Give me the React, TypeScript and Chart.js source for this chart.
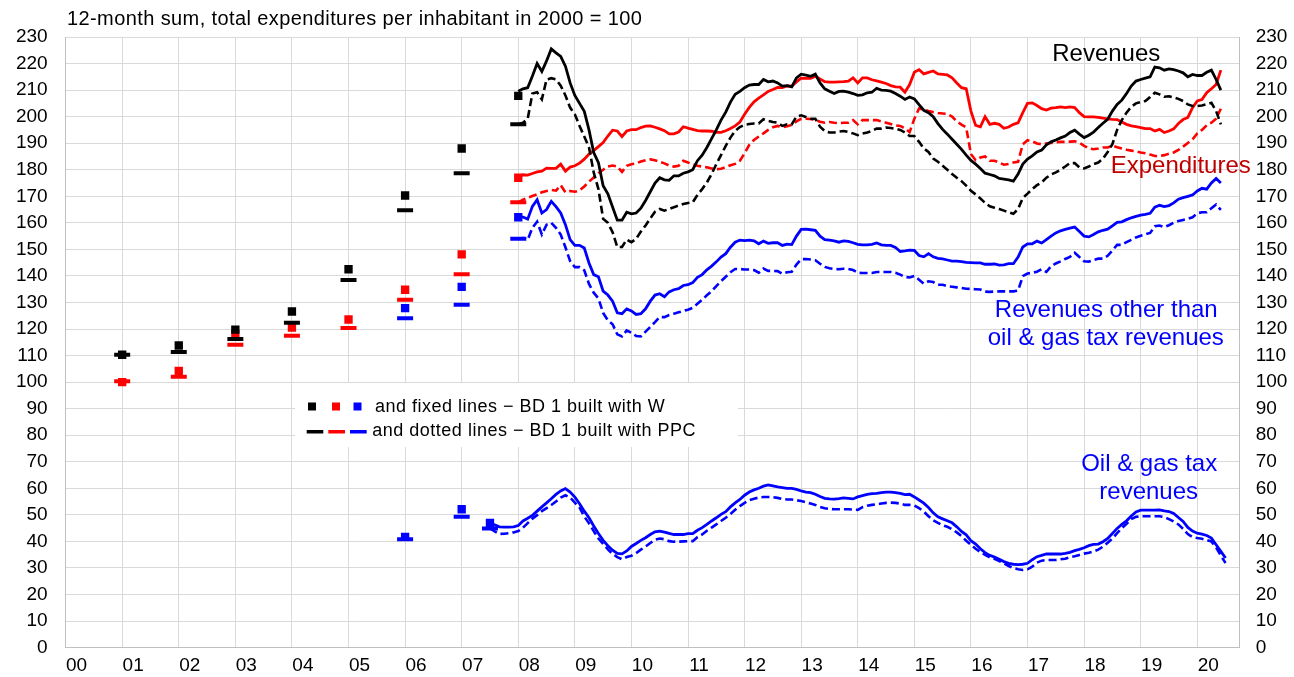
import React, { useEffect, useRef } from 'react';
import { Chart, registerables } from 'chart.js';

Chart.register(...registerables);

const FONT = '"Liberation Sans", Arial, sans-serif';

// ---------- axis ----------
const YEAR_LABELS = ['00', '01', '02', '03', '04', '05', '06', '07', '08', '09', '10', '11', '12', '13', '14', '15', '16', '17', '18', '19', '20'];
const MONTHS_PER_YEAR = 12;
const X_MAX_MONTH = 249;
const Y_MIN = 0;
const Y_MAX = 230;
const Y_STEP = 10;

// ---------- annual markers (12-month sums at year end) ----------
const ANNUAL_MONTHS = [12, 24, 36, 48, 60, 72, 84, 96];
const REV_W_ANNUAL = [110.3, 113.8, 119.8, 126.6, 142.5, 170.3, 188.0, 207.8];
const REV_PPC_ANNUAL = [110.3, 111.3, 116.2, 122.4, 138.5, 164.7, 178.7, 197.1];
const EXP_W_ANNUAL = [100.0, 104.2, 118.1, 120.5, 123.6, 134.8, 148.1, 177.0];
const EXP_PPC_ANNUAL = [100.3, 102.0, 114.1, 117.5, 120.4, 131.0, 140.6, 167.8];
const OTHER_MONTHS = [72, 84, 96];
const OTHER_W_ANNUAL = [127.9, 135.9, 162.1];
const OTHER_PPC_ANNUAL = [124.1, 129.1, 154.0];
const OIL_MONTHS = [72, 84, 90];
const OIL_W_ANNUAL = [41.7, 52.1, 47.0];
const OIL_PPC_ANNUAL = [40.8, 49.3, 44.9];

// ---------- monthly series (month index 96 = Dec 2007) ----------
const LINE_START = 96;
const REV_W = [
  209.6, 210.5, 210.9, 215.3, 220, 217, 221, 225.5, 224, 222.7, 219, 212.7,
  208, 205, 202, 195, 186.5, 182.7, 174, 170.9, 166, 161, 161, 164,
  163.4, 163.7, 165.5, 168.4, 171.7, 175, 177, 176.2, 176, 177.7, 177.7, 178.7,
  179.2, 180, 183.4, 185.5, 188.4, 191.7, 195, 198.7, 201.7, 205.5, 208.4, 209.5,
  210.9, 211.9, 212.1, 212.1, 214, 213.1, 213.4, 212.7, 211.5, 211.7, 211.2, 214.6,
  216, 215.6, 215.2, 216, 212.7, 210.5, 209.6, 208.7, 209.5, 209.6, 209.2, 208.7,
  208, 208.2, 209, 209.2, 210.7, 210, 209.9, 209.6, 208.7, 207.7, 206.5, 207.4,
  206.7, 204.5, 202.4, 201.5, 200, 197.4, 195.2, 193.4, 191.5, 189.6, 187.7, 185.5,
  183.5, 182.1, 180.5, 178.7, 178.2, 177.7, 176.7, 176.5, 176.2, 175.7, 178.4, 182.1,
  184, 185.2, 186.7, 187.4, 189.4, 190.5, 191.2, 192, 192.7, 194, 194.9, 193.4,
  192.1, 193, 194.2, 195.9, 197.5, 199, 202.1, 204.6, 206.2, 208.7, 211.5, 213.4,
  214, 214.5, 215, 218.7, 218.4, 217.5, 218, 217.7, 217.2, 216.5, 215, 215.9,
  215.5, 215.5, 216.7, 217.5, 214, 210,
];
const REV_PPC = [
  197.1, 197.7, 199.2, 208.7, 209.2, 206.5, 214, 214.5, 214, 211.7, 208, 203.4,
  200.9, 196.5, 192.5, 188.4, 179, 172.7, 161.5, 160, 156.5, 150.9, 150.9, 153.7,
  152.7, 154, 156.7, 159, 161.7, 164.2, 165.2, 164.6, 165.2, 165.9, 166.5, 167.1,
  167.5, 167.7, 170.5, 172.7, 175.2, 178.4, 182.1, 185.5, 189, 192.1, 194.6, 196.1,
  196.9, 197.2, 197.4, 197.4, 199, 198.4, 198, 197.7, 196.5, 197.1, 197.1, 200,
  200.5, 199.9, 199.2, 199.2, 196.2, 194.6, 194, 194, 194.4, 194.6, 194.2, 193.7,
  193, 193.6, 194, 194.6, 195.5, 195.5, 195.9, 195.7, 195.4, 195, 194, 192.7,
  192.7, 190.5, 188, 186.7, 184.2, 183, 181.5, 180, 178.4, 177, 175.7, 174,
  172.1, 170.7, 169.2, 167.5, 166.2, 165.7, 165.2, 164.6, 164, 163.4, 165.2, 169.4,
  171, 172.7, 174.2, 175.2, 177, 178.2, 179, 180, 181.2, 182.5, 182.5, 180.9,
  180.5, 181.2, 182.1, 182.7, 184.2, 186.7, 189.6, 195, 198.7, 201.5, 203.7, 205,
  205.5, 205.9, 207.4, 209, 208.4, 207.5, 207.7, 207.2, 206.7, 205.9, 204.6, 204,
  204, 204.2, 204.7, 205.2, 202.1, 197.1,
];
const EXP_W = [
  177.1, 178.1, 178, 178.6, 179.2, 179.5, 180.6, 180.5, 180.5, 182.1, 179.5, 181,
  181.5, 182.5, 184, 185.9, 187.2, 188.7, 190.2, 192.7, 194.9, 194.6, 192.5, 194.6,
  195.1, 195.1, 195.9, 196.4, 196.5, 196, 195.4, 194.7, 193.5, 193.5, 194.2, 196.2,
  195.7, 195.2, 194.7, 194.6, 194.6, 194.5, 194.1, 194.1, 194.7, 195.5, 196.5, 198,
  200.9, 203.5, 205.6, 207, 208.2, 209.5, 210.2, 211, 210.9, 211.6, 211.5, 213.1,
  214.5, 214.4, 214.4, 215.2, 214.2, 213.2, 213, 213, 213.1, 213.2, 213.4, 214.6,
  212.7, 214.6, 214.6, 213.9, 213.5, 213, 212.5, 211.7, 211.2, 211.1, 209.2, 212.1,
  216.7, 217.7, 216.1, 216.7, 217.2, 216.1, 215.9, 215.7, 214.6, 212.7, 210.9, 210.5,
  202.1, 196.7, 196.2, 200, 197.1, 197.5, 197.1, 195.6, 196.1, 197.1, 197.7, 201.5,
  205, 205.2, 204.2, 203, 202.5, 203.2, 203.4, 203.7, 203.4, 203.7, 203.4, 201.5,
  200, 199.9, 199.9, 199.7, 199.4, 199.2, 199, 198.9, 198, 197.1, 196.5, 196.2,
  195.9, 195.5, 195.5, 194.6, 195.2, 194, 194.6, 195.4, 197.4, 198.9, 199.7, 203.4,
  205.9, 206.4, 209, 210.5, 212.1, 217.5,
];
const EXP_PPC = [
  167.7, 168.7, 169.5, 170.1, 170.7, 171.5, 172, 172.4, 172.1, 174.2, 171.5, 172,
  171.7, 172.2, 173.7, 175.5, 177.1, 178.7, 180, 181.2, 181.6, 181.2, 179.2, 181.5,
  182.1, 182.4, 183.1, 183.6, 183.9, 183.6, 183, 182.4, 181.6, 181.2, 181.5, 183.4,
  182.7, 182.1, 181.5, 181.2, 180.9, 180.5, 180.2, 180.4, 181, 181.7, 182.2, 183.4,
  186.2, 189.4, 191.2, 192.5, 193.7, 195, 196, 196.5, 196, 196.4, 196.9, 198.2,
  199.2, 199.2, 199.1, 198.7, 198.1, 197.7, 198, 197.7, 197.5, 197.7, 197.7, 198.7,
  197.1, 198.7, 198.7, 198.7, 198.7, 198.2, 197.7, 197.2, 196.7, 196.5, 195.6, 194.2,
  199.2, 203.1, 202.7, 202.1, 201.7, 201.4, 201.2, 201, 200, 198.2, 197, 195.9,
  185.9, 183.6, 184.6, 185, 183.4, 183.4, 182.7, 181.9, 182.2, 182.7, 183, 189.6,
  191.1, 190.7, 189.9, 189.6, 189.9, 190.1, 190.4, 190.5, 190.5, 190.6, 190.7, 190.2,
  189, 188.1, 187.7, 188, 188.4, 188.4, 189, 188.5, 188, 187.5, 187.2, 186.9,
  186.5, 186.2, 185.7, 185.2, 185.2, 185.5, 186, 186.5, 187.5, 188.7, 190.1, 191.5,
  193.7, 195, 196.7, 197.7, 199.2, 203,
];
const OTHER_W = [
  162.4, 162.2, 161.4, 166.2, 168.7, 163.7, 165, 168.1, 166.1, 163.7, 159.3, 153.7,
  151.5, 151.5, 150.5, 144.9, 140.5, 139.7, 134.3, 132.8, 130.5, 126.1, 125.8, 127.6,
  126.8, 125.5, 125.8, 127.6, 130.5, 132.8, 133.3, 132.2, 134, 134.8, 135.2, 136.4,
  136.7, 137.5, 139.5, 140.5, 142.3, 143.7, 145.3, 147.1, 148.4, 150.8, 152.7, 153.5,
  153.3, 153.5, 153.2, 152.1, 153.1, 152.3, 152.5, 152.5, 151.5, 152, 151.8, 155,
  157.5, 157.6, 157.4, 157.2, 155, 153.7, 153.5, 153.2, 152.7, 153.2, 153, 152.5,
  151.9, 151.7, 151.7, 151.9, 152.4, 151.7, 151.5, 151.5, 150.7, 149.2, 149.4, 149.7,
  149.6, 147.7, 147.2, 148.4, 147.2, 146.6, 146.4, 146, 145.6, 145.6, 145.4, 145.1,
  145, 144.9, 144.9, 144.4, 144.4, 144.5, 144.1, 144.2, 144.6, 144.6, 147.1, 150.9,
  152.1, 152.1, 153.1, 152.4, 153.7, 155, 156.2, 157, 157.5, 158, 158.4, 156.7,
  155, 154.7, 155.6, 156.6, 157.2, 157.6, 158.9, 160.2, 160.4, 161.2, 161.9, 162.4,
  162.9, 163.2, 163.6, 165.9, 166.6, 166.1, 166.5, 167.5, 168.9, 169.5, 170, 170.5,
  172, 173, 172.7, 175, 176.7, 175,
];
const OTHER_PPC = [
  154.1, 154.3, 153.6, 158.1, 160.4, 155.6, 159.3, 160, 158.1, 155.6, 150.8, 145.6,
  143.3, 143.3, 142.1, 137, 133.7, 131.5, 126.1, 123.3, 121.8, 118, 117.2, 119.5,
  118.6, 117.4, 117.2, 119, 120.8, 122.6, 124.5, 124.5, 125.3, 125.8, 126.3, 126.8,
  127.3, 128, 129.5, 131, 132.7, 134.2, 136.2, 138, 139.7, 141.4, 142.6, 142.6,
  142.4, 142.4, 142.2, 141.2, 142.8, 141.9, 141.9, 141.8, 140.8, 141.4, 141.6, 144.3,
  146.3, 146.4, 146.2, 145.9, 144.6, 143.4, 142.9, 142.6, 142.5, 142.7, 142.6, 142.2,
  141.2, 141.1, 141.1, 141.1, 141.5, 141.5, 141.5, 141.5, 141.2, 140.5, 139.6, 139.4,
  140, 138.6, 137.1, 138, 137.7, 136.7, 136.7, 136.1, 135.9, 135.7, 135.5, 135.2,
  135.1, 135, 134.9, 134.1, 134, 134.1, 134.2, 134.2, 134.2, 134.2, 134.5, 139.9,
  140.9, 141.2, 141.6, 142.5, 141.5, 143.7, 144.7, 145.5, 146.4, 147.2, 148.7, 147.1,
  145.5, 145.4, 146, 146.5, 146.5, 147.6, 149.6, 151.7, 151.7, 152.7, 153.6, 154.5,
  155.1, 155.7, 156.2, 158.7, 159, 158.4, 159.1, 160.1, 160.7, 161.1, 161.5, 162.1,
  163.6, 164, 164, 165.5, 166.9, 164.9,
];

// oil & gas tax revenues, month index 90 onwards
const OIL_START = 90;
const OIL_W = [
  46.7, 46.2, 45.5, 45.4, 45.4, 45.5,
  46, 47.7, 48.7, 49.8, 51.4, 53, 54.5, 56.1, 57.7, 59, 59.9, 58.6,
  56.7, 54.2, 51.4, 48.9, 45.8, 43, 40.4, 38.4, 36.7, 35.5, 35.3, 36.4,
  38.1, 39.2, 40.4, 41.4, 42.6, 43.6, 43.9, 43.5, 43, 42.6, 42.6, 42.6,
  42.9, 42.9, 44.2, 45.2, 46.4, 47.7, 48.9, 50.2, 51.2, 53, 54.5, 55.8,
  57.4, 58.6, 59.4, 60, 60.8, 61.3, 60.9, 60.5, 60.3, 60, 60, 59.6,
  59, 58.6, 58.4, 57.75, 56.9, 56.25, 56, 55.9, 56.1, 56.4, 56.25, 56,
  56.75, 57.25, 57.75, 58, 58.1, 58.4, 58.6, 58.6, 58.4, 58.1, 57.6, 57.75,
  56.75, 55.6, 54.4, 52.75, 50.75, 49.25, 48.5, 47.75, 47, 45.5, 43.75, 42.5,
  40.25, 39, 37.25, 35.75, 34.75, 34.1, 33.25, 32.4, 31.75, 31.4, 31.25, 31.4,
  31.75, 33.1, 34.25, 34.75, 35.25, 35.25, 35.25, 35.25, 35.5, 35.9, 36.5, 37,
  37.6, 38.4, 38.9, 39, 39.9, 41.1, 43, 44.9, 46.4, 47.75, 49.6, 51.1,
  51.75, 51.75, 51.75, 51.75, 51.9, 51.5, 51.25, 50.5, 49, 47.5, 45.25, 43.9,
  43.1, 42.75, 42.25, 41.25, 38.75, 36.25, 33.75,
];
const OIL_PPC = [
  44.9, 43.8, 42.8, 42.9, 43.1, 43.4,
  43.9, 45.2, 46.9, 48.6, 49.9, 51.4, 52.5, 53.7, 55, 56.5, 57.4, 56.5,
  54.6, 52.7, 49.4, 46.8, 43.9, 41.1, 39.1, 37, 35.3, 34.1, 33.3, 34.1,
  34.6, 35.6, 36.9, 38.1, 39.4, 40.6, 41.1, 40.8, 40.1, 39.9, 39.9, 40,
  40.1, 40.1, 41.6, 42.6, 44, 45.2, 46.4, 47.7, 48.9, 50.3, 51.9, 53.3,
  54.5, 55.5, 56.1, 56.5, 56.7, 56.7, 56.7, 56.4, 56, 55.8, 55.8, 55.5,
  55.2, 54.7, 54.25, 53.75, 53, 52.5, 52.25, 52.1, 52.1, 52.1, 52.1, 52,
  51.9, 52.9, 53.4, 53.75, 54, 54.25, 54.5, 54.6, 54.5, 54.25, 53.75, 53.75,
  53.5, 52.5, 51.25, 49.5, 48, 47, 46.1, 45.5, 44.6, 43.4, 42, 40.25,
  38.75, 37.25, 36, 34.9, 34, 33.4, 32.6, 31.75, 30.75, 30, 29.5, 29.25,
  29.5, 30.5, 32, 32.75, 33, 33, 33, 33.25, 33.5, 34, 34.4, 34.9,
  35.4, 35.75, 36.25, 36.9, 38, 39.5, 41.1, 43.1, 45, 46.6, 48.4, 49.25,
  49.5, 49.5, 49.5, 49.5, 49.5, 49.1, 48.4, 47.5, 46.4, 44.75, 42.75, 41.6,
  41.25, 41, 40.5, 40, 37.75, 34.6, 31.9,
];

// ---------- text annotations (anchored in data units: month, value) ----------
const ANNOTATIONS = [
  { text: 'Revenues', month: 220.7, value: 223.3, color: '#000000' },
  { text: 'Expenditures', month: 236.5, value: 181.2, color: '#c00000' },
  { text: 'Revenues other than', month: 220.7, value: 127.0, color: '#0000ff' },
  { text: 'oil & gas tax revenues', month: 220.6, value: 116.3, color: '#0000ff' },
  { text: 'Oil & gas tax', month: 229.8, value: 68.9, color: '#0000ff' },
  { text: 'revenues', month: 229.7, value: 58.5, color: '#0000ff' },
];
const TITLE = '12-month sum, total expenditures per inhabitant in 2000 = 100';
const LEGEND_LINE_1 = 'and fixed lines \u2212 BD 1 built with W';
const LEGEND_LINE_2 = 'and dotted lines \u2212 BD 1 built with PPC';

const BLACK = '#000000';
const RED = '#ff0000';
const BLUE = '#0000ff';

const monthly = (start: number, values: number[]) => values.map((y, i) => ({ x: start + i, y }));
const annual = (months: number[], values: number[]) => values.map((y, i) => ({ x: months[i], y }));

const lineDs = (data: any[], color: string, dashed: boolean) => ({
  type: 'line' as const,
  data,
  borderColor: color,
  backgroundColor: color,
  borderWidth: dashed ? 2.6 : 2.8,
  borderDash: dashed ? [8, 4] : [],
  pointRadius: 0,
  tension: 0,
  fill: false,
});
const squareDs = (data: any[], color: string) => ({
  type: 'line' as const,
  data,
  showLine: false,
  pointStyle: 'rect',
  pointRadius: 5.9,
  pointBackgroundColor: color,
  pointBorderWidth: 0,
  borderColor: color,
  backgroundColor: color,
});
const dashDs = (data: any[], color: string) => ({
  type: 'line' as const,
  data,
  showLine: false,
  pointStyle: 'line',
  pointRadius: 8,
  pointBorderWidth: 4,
  pointBorderColor: color,
  borderColor: color,
  backgroundColor: color,
});

const overlayPlugin = {
  id: 'overlay',
  beforeDatasetsDraw(chart: any) {
    const ctx = chart.ctx as CanvasRenderingContext2D;
    ctx.save();
    ctx.fillStyle = '#ffffff';
    ctx.fillRect(295, 383, 443, 64);
    const cols = [BLACK, RED, BLUE];
    [312, 336, 357.5].forEach((cx, i) => {
      ctx.fillStyle = cols[i];
      ctx.fillRect(cx - 4, 402.5, 8, 8);
    });
    [[306.7, 323.3], [328.3, 345], [350, 366.7]].forEach(([a, b], i) => {
      ctx.fillStyle = cols[i];
      ctx.fillRect(a, 430, b - a, 3.5);
    });
    ctx.fillStyle = BLACK;
    ctx.font = `18px ${FONT}`;
    (ctx as any).letterSpacing = '0.5px';
    ctx.textBaseline = 'alphabetic';
    ctx.textAlign = 'left';
    ctx.fillText(LEGEND_LINE_1, 375, 412);
    ctx.fillText(LEGEND_LINE_2, 372.3, 436);
    ctx.restore();
  },
  afterDraw(chart: any) {
    const ctx = chart.ctx as CanvasRenderingContext2D;
    const xs = chart.scales.x;
    const ys = chart.scales.y;
    ctx.save();
    ctx.fillStyle = BLACK;
    ctx.font = `20px ${FONT}`;
    (ctx as any).letterSpacing = '0.4px';
    ctx.textAlign = 'left';
    ctx.textBaseline = 'middle';
    ctx.fillText(TITLE, 67, 19);
    (ctx as any).letterSpacing = '0px';
    ctx.font = `24px ${FONT}`;
    ctx.textAlign = 'center';
    ANNOTATIONS.forEach((a) => {
      ctx.fillStyle = a.color;
      ctx.fillText(a.text, xs.getPixelForValue(a.month), ys.getPixelForValue(a.value));
    });
    ctx.restore();
  },
};

export default function App() {
  const ref = useRef<HTMLCanvasElement | null>(null);
  useEffect(() => {
    if (!ref.current) return;
    const tickFont = { family: FONT, size: 19 };
    const chart = new Chart(ref.current, {
      type: 'line',
      data: {
        datasets: [
          squareDs(annual(ANNUAL_MONTHS, REV_W_ANNUAL), BLACK),
          dashDs(annual(ANNUAL_MONTHS, REV_PPC_ANNUAL), BLACK),
          squareDs(annual(ANNUAL_MONTHS, EXP_W_ANNUAL), RED),
          dashDs(annual(ANNUAL_MONTHS, EXP_PPC_ANNUAL), RED),
          squareDs(annual(OTHER_MONTHS, OTHER_W_ANNUAL), BLUE),
          dashDs(annual(OTHER_MONTHS, OTHER_PPC_ANNUAL), BLUE),
          squareDs(annual(OIL_MONTHS, OIL_W_ANNUAL), BLUE),
          dashDs(annual(OIL_MONTHS, OIL_PPC_ANNUAL), BLUE),
          lineDs(monthly(LINE_START, REV_W), BLACK, false),
          lineDs(monthly(LINE_START, REV_PPC), BLACK, true),
          lineDs(monthly(LINE_START, EXP_W), RED, false),
          lineDs(monthly(LINE_START, EXP_PPC), RED, true),
          lineDs(monthly(LINE_START, OTHER_W), BLUE, false),
          lineDs(monthly(LINE_START, OTHER_PPC), BLUE, true),
          lineDs(monthly(OIL_START, OIL_W), BLUE, false),
          lineDs(monthly(OIL_START, OIL_PPC), BLUE, true),
        ] as any,
      },
      options: {
        animation: false,
        responsive: false,
        devicePixelRatio: 1,
        layout: { padding: { top: 37, left: 0, right: 0, bottom: 0 } },
        plugins: { legend: { display: false }, tooltip: { enabled: false }, title: { display: false } },
        scales: {
          x: {
            type: 'linear',
            min: 0,
            max: X_MAX_MONTH,
            afterBuildTicks: (s: any) => {
              s.ticks = YEAR_LABELS.map((_, i) => ({ value: i * MONTHS_PER_YEAR }));
            },
            afterFit: (s: any) => { s.height = 28; },
            ticks: {
              autoSkip: false,
              maxRotation: 0,
              labelOffset: 11,
              padding: 7,
              color: BLACK,
              font: tickFont,
              callback: (v: any) => YEAR_LABELS[Math.round(Number(v) / MONTHS_PER_YEAR)] ?? '',
            },
            grid: { color: '#d9d9d9', drawTicks: false, lineWidth: 1 },
            border: { color: '#bfbfbf', width: 1 },
          },
          y: {
            min: Y_MIN,
            max: Y_MAX,
            afterFit: (s: any) => { s.width = 65.6; },
            ticks: { stepSize: Y_STEP, padding: 18, color: BLACK, font: tickFont },
            grid: { color: '#d9d9d9', drawTicks: false, lineWidth: 1 },
            border: { color: '#bfbfbf', width: 1 },
          },
          y2: {
            position: 'right',
            min: Y_MIN,
            max: Y_MAX,
            afterFit: (s: any) => { s.width = 54.3; },
            ticks: { stepSize: Y_STEP, padding: 16, color: BLACK, font: tickFont },
            grid: { drawOnChartArea: false, drawTicks: false },
            border: { color: '#bfbfbf', width: 1 },
          },
        },
      } as any,
      plugins: [overlayPlugin],
    });
    return () => chart.destroy();
  }, []);
  return (
    <div style={{ position: 'absolute', left: 0, top: 0, width: 1294, height: 677, background: '#fff' }}>
      <canvas ref={ref} width={1294} height={677} style={{ width: 1294, height: 677, display: 'block' }} />
    </div>
  );
}
